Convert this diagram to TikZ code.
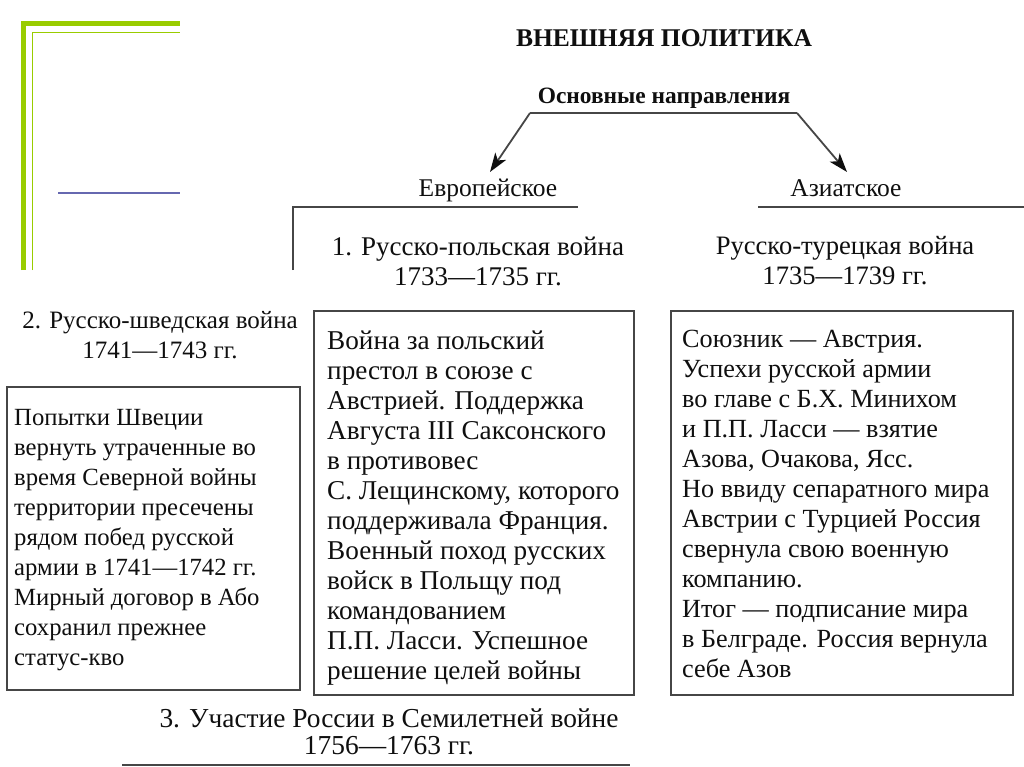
\documentclass[tikz,border=0pt]{standalone}
\usepackage{fontspec}
\setmainfont{Liberation Serif}
\usetikzlibrary{arrows.meta,calc}
\definecolor{lime}{RGB}{153,204,0}
\definecolor{slate}{RGB}{102,104,176}
\definecolor{ink}{RGB}{15,15,15}
\definecolor{rulec}{RGB}{70,70,70}
\begin{document}
\begin{tikzpicture}[x=1pt,y=-1pt,
  txt/.style={font=\fontsize{25}{30}\selectfont, inner sep=0pt, text=ink},
  hdr/.style={txt, align=center},
  para/.style={txt, align=left, anchor=north west},
  frame/.style={draw=rulec, line width=1.8pt, outer sep=0pt, inner sep=0pt, anchor=north west},
  rulel/.style={draw=rulec, line width=1.8pt},
  arr/.style={rulel, -{Stealth[length=19pt,width=13pt,inset=5pt,fill=ink,color=ink]}},
  deco/.style={draw=lime, line cap=butt}
]
\useasboundingbox (0,0) rectangle (1024,767);
\fill[white] (0,0) rectangle (1024,767);
% decoration
\draw[deco, line width=5pt] (23.5,270) -- (23.5,23.5) -- (180,23.5);
\draw[deco, line width=1.6pt] (32.5,270) -- (32.5,32.5) -- (180,32.5);
\draw[draw=slate, line width=2pt] (58,193) -- (180,193);
% titles
\node[txt, font=\bfseries\fontsize{25.5}{28}\selectfont] (title) at (664,38) {ВНЕШНЯЯ ПОЛИТИКА};
\node[txt, font=\bfseries\fontsize{23.4}{28}\selectfont] (osn) at (664,98) {Основные направления};
\node[txt, font=\fontsize{25.5}{30}\selectfont] (evro) at (488,190) {Европейское};
\node[txt, font=\fontsize{25.5}{30}\selectfont] (asia) at (846,188) {Азиатское};
\coordinate (bl) at (530,113);
\coordinate (br) at (797,113);
\coordinate (evtip) at (490,172);
\coordinate (astip) at (847,172);
\draw[rulel] (bl) -- (br);
\draw[arr] (bl) -- (evtip);
\draw[arr] (br) -- (astip);
\draw[rulel] (293,270) -- (293,207) -- (578,207);
\draw[rulel] (758,207) -- (1024,207);
% headers
\node[hdr, font=\fontsize{27}{30}\selectfont] (h1) at (478,261) {1. Русско-польская война\\1733—1735 гг.};
\node[hdr, font=\fontsize{26.6}{30}\selectfont] (h2) at (845,261) {Русско-турецкая война\\1735—1739 гг.};
\node[hdr, font=\fontsize{25}{30}\selectfont] (h0) at (160,335) {2. Русско-шведская война\\1741—1743 гг.};
\node[hdr, font=\fontsize{27.4}{27}\selectfont] (h3) at (389,732) {3. Участие России в Семилетней войне\\1756—1763 гг.};
\draw[rulel, line width=2.2pt] (122,765) -- (630,765);
% boxes
\node[frame, minimum width=293, minimum height=303] (lbox) at (7,387) {};
\node[frame, minimum width=320, minimum height=384] (mbox) at (314,311) {};
\node[frame, minimum width=342, minimum height=384] (rbox) at (671,311) {};
\node[para, font=\fontsize{24.7}{30}\selectfont] (ltext) at ($(lbox.north west)+(7,22)$) {Попытки Швеции\\вернуть утраченные во\\время Северной войны\\территории пресечены\\рядом побед русской\\армии в 1741—1742 гг.\\Мирный договор в Або\\сохранил прежнее\\статус-кво};
\node[para, font=\fontsize{27.2}{30}\selectfont] (mtext) at ($(mbox.north west)+(13,20)$) {Война за польский\\престол в союзе с\\Австрией. Поддержка\\Августа III Саксонского\\в противовес\\С. Лещинскому, которого\\поддерживала Франция.\\Военный поход русских\\войск в Польщу под\\командованием\\П.П. Ласси. Успешное\\решение целей войны};
\node[para, font=\fontsize{26.2}{30}\selectfont] (rtext) at ($(rbox.north west)+(11,19)$) {Союзник — Австрия.\\Успехи русской армии\\во главе с Б.Х. Минихом\\и П.П. Ласси — взятие\\Азова, Очакова, Ясс.\\Но ввиду сепаратного мира\\Австрии с Турцией Россия\\свернула свою военную\\компанию.\\Итог — подписание мира\\в Белграде. Россия вернула\\себе Азов};
\end{tikzpicture}
\end{document}
